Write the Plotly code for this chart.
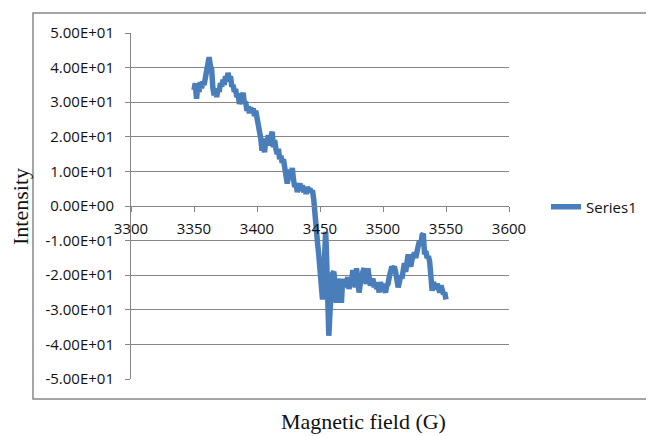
import plotly.graph_objects as go

# Magnetic field (G) and intensity
field = [3350, 3351, 3352, 3353, 3354, 3355, 3356, 3357, 3358, 3359,
         3360, 3361, 3362, 3363, 3364, 3365, 3366, 3367, 3368, 3369,
         3370, 3371, 3372, 3373, 3374, 3375, 3376, 3377, 3378, 3379,
         3380, 3381, 3382, 3383, 3384, 3385, 3386, 3387, 3388, 3389,
         3390, 3391, 3392, 3393, 3394, 3395, 3396, 3397, 3398, 3399,
         3400, 3401, 3402, 3403, 3404, 3405, 3406, 3407, 3408, 3409,
         3410, 3411, 3412, 3413, 3414, 3415, 3416, 3417, 3418, 3419,
         3420, 3421, 3422, 3423, 3424, 3425, 3426, 3427, 3428, 3429,
         3430, 3431, 3432, 3433, 3434, 3435, 3436, 3437, 3438, 3439,
         3440, 3441, 3442, 3443, 3444, 3445, 3446, 3447, 3448, 3449,
         3450, 3451, 3452, 3453, 3454, 3454.5, 3455, 3456, 3457, 3458, 3459,
         3460, 3461, 3462, 3463, 3464, 3465, 3466, 3467, 3468, 3469,
         3470, 3471, 3472, 3473, 3474, 3475, 3476, 3477, 3478, 3479,
         3480, 3481, 3482, 3483, 3484, 3485, 3486, 3487, 3488, 3489,
         3490, 3491, 3492, 3493, 3494, 3495, 3496, 3497, 3498, 3499,
         3500, 3501, 3502, 3503, 3504, 3505, 3506, 3507, 3508, 3509,
         3510, 3511, 3512, 3513, 3514, 3515, 3516, 3517, 3518, 3519,
         3520, 3521, 3522, 3523, 3524, 3525, 3526, 3527, 3528, 3529,
         3530, 3531, 3532, 3533, 3534, 3535, 3536, 3537, 3538, 3539,
         3540, 3541, 3542, 3543, 3544, 3545, 3546, 3547, 3548, 3549, 3550]

intensity = [33.5, 35.5, 31.0, 34.5, 33.0, 35.8, 34.0, 36.0, 35.0, 37.5,
             38.5, 41.0, 43.0, 40.5, 39.5, 34.0, 32.0, 33.5, 31.5, 34.0,
             33.0, 35.5, 34.5, 36.5, 35.0, 37.5, 36.0, 38.5, 36.5, 37.5,
             34.5, 35.0, 33.0, 33.8, 31.5, 32.5, 29.5, 30.5, 31.5, 32.7,
             29.5, 30.2, 27.5, 28.8, 26.8, 28.5, 27.0, 28.2, 26.0, 27.5,
             25.5, 24.0, 21.5, 19.5, 16.0, 18.5, 15.5, 19.5, 18.0, 20.5,
             17.5, 19.5, 21.5, 17.0, 19.0, 16.5, 15.0, 16.5, 13.5, 14.5,
             12.5, 13.5, 11.0, 9.5, 6.5, 9.0, 10.5, 8.0, 11.0, 7.5,
             5.5, 6.5, 4.0, 5.5, 6.5, 4.5, 6.0, 4.0, 5.0, 3.5,
             5.5, 4.5, 5.0, 4.0, 4.5, 2.0, -4.0, -7.0, -10.5, -14.0,
             -18.5, -23.0, -27.0, -20.0, -9.0, -7.5, -12.0, -25.0, -37.5, -30.0, -22.0,
             -19.5, -19.0, -24.0, -28.0, -21.0, -23.0, -22.0, -28.0, -21.0, -23.5,
             -21.5, -22.5, -20.5, -24.0, -22.0, -23.0, -18.5, -22.0, -23.5, -18.0,
             -21.0, -25.0, -22.5, -21.5, -19.0, -18.0, -21.0, -22.5, -18.0, -21.0,
             -23.0, -22.0, -21.0, -23.5, -22.0, -24.0, -23.0, -25.0, -22.0, -23.5,
             -22.5, -24.0, -25.0, -23.0, -22.5, -20.5, -19.0, -17.5, -18.0, -17.5,
             -19.0, -21.0, -23.5, -22.0, -20.0, -21.0, -17.0, -16.5, -19.0, -16.0,
             -14.0, -16.5, -17.5, -15.5, -14.0, -13.5, -15.0, -12.0, -11.5, -10.0,
             -11.5, -8.5, -8.0, -14.0, -13.0, -15.0, -14.5, -16.0, -19.0, -24.5,
             -22.0, -23.5, -24.0, -22.5, -24.0, -25.0, -23.0, -24.5, -25.5, -25.0, -27.0]

y_tick_vals = [50, 40, 30, 20, 10, 0, -10, -20, -30, -40, -50]
y_tick_text = ["5.00E+01", "4.00E+01", "3.00E+01", "2.00E+01", "1.00E+01", "0.00E+00",
               "-1.00E+01", "-2.00E+01", "-3.00E+01", "-4.00E+01", "-5.00E+01"]
x_tick_vals = [3300, 3350, 3400, 3450, 3500, 3550, 3600]

series_name = "Series1"
x_title = "Magnetic field (G)"
y_title = "Intensity"

# page body margin offsets the figure by 8 px; lay out in page pixels minus that
OFF = 8
W, H = 654, 436
L, R, T, B = 131 - OFF, 509 - OFF, 33 - OFF, 379 - OFF
pw, ph = R - L, B - T


def px(xp):
    return (xp - OFF - L) / pw


def py(yp):
    return (B - (yp - OFF)) / ph


fig = go.Figure()
fig.add_trace(go.Scatter(x=field, y=intensity, mode="lines", name=series_name,
                         line=dict(color="#4a7ebb", width=5.5), showlegend=True))

tick_font = dict(family="Open Sans", size=15, color="#111111")
fig.update_layout(
    width=W, height=H,
    margin=dict(l=L, r=W - R, t=T, b=H - B, autoexpand=False),
    paper_bgcolor="white", plot_bgcolor="white",
    xaxis=dict(range=[3300, 3600], tickvals=x_tick_vals, showgrid=False, zeroline=False,
               showline=True, linecolor="#868686", linewidth=1,
               ticks="outside", ticklen=5, tickcolor="#868686",
               anchor="free", position=0.5, tickfont=tick_font, ticklabelstandoff=4),
    yaxis=dict(range=[-50, 50], tickvals=y_tick_vals, ticktext=y_tick_text,
               showgrid=True, gridcolor="#868686", gridwidth=1, zeroline=False,
               showline=True, linecolor="#868686", linewidth=1,
               ticks="outside", ticklen=5, tickcolor="#868686",
               tickfont=tick_font, ticklabelstandoff=8),
    legend=dict(x=px(546), y=py(207), xanchor="left", yanchor="middle",
                font=dict(family="Open Sans", size=15, color="#111111"),
                bgcolor="rgba(0,0,0,0)"),
    shapes=[dict(type="rect", xref="paper", yref="paper",
                 x0=px(33), x1=px(653), y0=py(399), y1=py(13),
                 line=dict(color="#888888", width=1.5), layer="below")],
    annotations=[
        dict(text=x_title, xref="paper", yref="paper", x=px(363), y=py(421),
             showarrow=False, xanchor="center", yanchor="middle",
             font=dict(family="Liberation Serif", size=22, color="#111111")),
        dict(text=y_title, xref="paper", yref="paper", x=px(20), y=py(207),
             showarrow=False, xanchor="center", yanchor="middle", textangle=-90,
             font=dict(family="Liberation Serif", size=22, color="#111111")),
    ],
)

fig.write_html("out.html")
